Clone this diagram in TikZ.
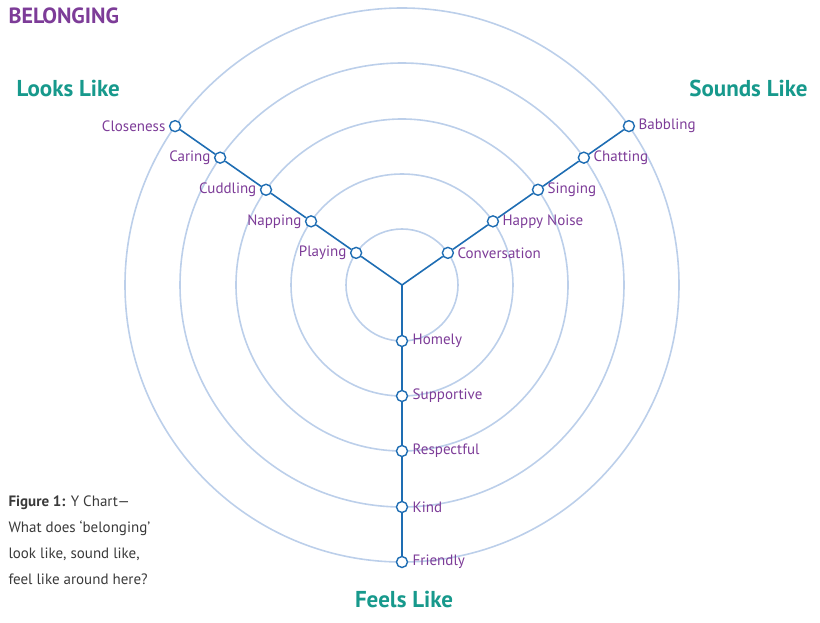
\documentclass[tikz,border=0pt]{standalone}
\usepackage{fontspec}
\setmainfont{PT Sans}
\usetikzlibrary{positioning, calc}
\definecolor{ringblue}{HTML}{BCCFEA}
\definecolor{linkblue}{HTML}{1E6DB3}
\definecolor{wordpurple}{HTML}{7D3C98}
\definecolor{headteal}{HTML}{17998C}
\definecolor{capgray}{HTML}{3A3A3A}
\tikzset{
  dot/.style={circle, draw=linkblue, fill=white, line width=1.4pt, inner sep=0pt, minimum size=11pt},
  word/.style={text=wordpurple, font=\fontsize{15}{18}\selectfont},
  head/.style={text=headteal, font=\fontsize{23}{26}\selectfont\bfseries},
}
\begin{document}
\begin{tikzpicture}[x=1pt, y=1pt]
\useasboundingbox (0,0) rectangle (820,-623);

% Rings
\foreach \r in {56,111,166,222,277}
  \draw[ringblue, line width=1.6pt] (402,-285) circle (\r);

\coordinate (hub) at (402,-285);

% Branches
\foreach \r/\name [count=\i] in {56/Playing,111/Napping,166/Cuddling,222/Caring,277/Closeness} {
  \node[dot] (l\i) at ($(hub)+(145:\r)$) {};
  \node[word, left=0pt of l\i] {\name};
}
\foreach \r/\name [count=\i] in {56/Conversation,111/Happy Noise,166/Singing,222/Chatting,277/Babbling} {
  \node[dot] (r\i) at ($(hub)+(35:\r)$) {};
  \node[word, right=0pt of r\i] {\name};
}
\foreach \r/\name [count=\i] in {56/Homely,111/Supportive,166/Respectful,222/Kind,277/Friendly} {
  \node[dot] (b\i) at ($(hub)+(270:\r)$) {};
  \node[word, right=1pt of b\i] {\name};
}
\draw[linkblue, line width=1.6pt] (l5) -- (l4) -- (l3) -- (l2) -- (l1) -- (hub);
\draw[linkblue, line width=1.6pt] (r5) -- (r4) -- (r3) -- (r2) -- (r1) -- (hub);
\draw[linkblue, line width=1.6pt] (hub) -- (b1) -- (b2) -- (b3) -- (b4) -- (b5);

% Titles
\node[text=wordpurple, font=\fontsize{22}{26}\selectfont\bfseries, anchor=west] (title) at (5,-16) {BELONGING};
\node[head, anchor=west] (looks) at (13,-88) {Looks Like};
\node[head, anchor=east] (sounds) at (811,-88) {Sounds Like};
\node[head] (feels) at (404,-599) {Feels Like};

% Caption
\node[anchor=north west, align=left, text=capgray, font=\fontsize{15}{26}\selectfont] (cap) at (5,-492)
  {\textbf{Figure 1:} Y Chart---\\
   What does ‘belonging’\\
   look like, sound like,\\
   feel like around here?};
\end{tikzpicture}
\end{document}
